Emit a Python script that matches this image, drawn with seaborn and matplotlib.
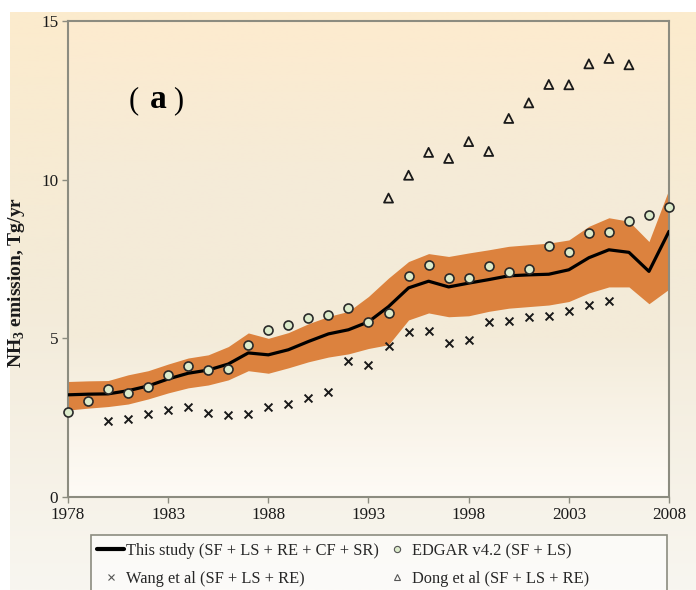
import numpy as np
import pandas as pd
import matplotlib
matplotlib.use("Agg")
import matplotlib.pyplot as plt
from matplotlib.colors import LinearSegmentedColormap
from matplotlib.lines import Line2D
from matplotlib.patches import Rectangle
import seaborn as sns

sns.set_theme(style="white")
plt.rcParams['font.family'] = ['Liberation Serif', 'DejaVu Serif']

# ---------------- data ----------------
years = list(range(1978, 2009))
study = [3.22, 3.24, 3.25, 3.35, 3.5, 3.72, 3.9, 4.0, 4.19, 4.54, 4.48, 4.64, 4.9, 5.14, 5.27, 5.52,
         6.0, 6.59, 6.8, 6.62, 6.74, 6.85, 6.97, 7.0, 7.02, 7.16, 7.54, 7.79, 7.71, 7.11, 8.37]
study_hi = [3.64, 3.66, 3.67, 3.85, 3.98, 4.19, 4.38, 4.48, 4.74, 5.17, 5.0, 5.18, 5.46, 5.69, 5.85, 6.32,
            6.9, 7.42, 7.67, 7.58, 7.69, 7.79, 7.9, 7.95, 8.0, 8.1, 8.53, 8.8, 8.69, 8.05, 9.7]
study_lo = [2.74, 2.8, 2.85, 2.93, 3.09, 3.28, 3.44, 3.53, 3.69, 3.98, 3.9, 4.07, 4.26, 4.41, 4.51, 4.68,
            4.8, 5.58, 5.8, 5.68, 5.71, 5.85, 5.95, 6.0, 6.05, 6.16, 6.43, 6.62, 6.62, 6.09, 6.55]

edgar_years = list(range(1978, 2009))
edgar = [2.69, 3.04, 3.4, 3.27, 3.48, 3.83, 4.14, 4.0, 4.04, 4.8, 5.26, 5.41, 5.64, 5.74, 5.95, 5.5,
         5.81, 6.97, 7.31, 6.89, 6.89, 7.27, 7.09, 7.17, 7.92, 7.72, 8.31, 8.36, 8.71, 8.9, 9.15]

wang_years = list(range(1980, 2006))
wang = [2.4, 2.45, 2.62, 2.74, 2.85, 2.64, 2.58, 2.62, 2.83, 2.92, 3.13, 3.31, 4.3, 4.17,
        4.77, 5.19, 5.24, 4.84, 4.96, 5.51, 5.56, 5.66, 5.7, 5.85, 6.05, 6.18]

dong_years = list(range(1994, 2007))
dong = [9.42, 10.14, 10.86, 10.67, 11.2, 10.89, 11.93, 12.42, 13.0, 12.99, 13.65, 13.82, 13.62]

xticks = [1978, 1983, 1988, 1993, 1998, 2003, 2008]
yticks = [0, 5, 10, 15]

labels = ["This study (SF + LS + RE + CF + SR)", "EDGAR v4.2 (SF + LS)",
          "Wang et al (SF + LS + RE)", "Dong et al (SF + LS + RE)"]

df_study = pd.DataFrame({"year": years, "v": study, "hi": study_hi, "lo": study_lo})
df_edgar = pd.DataFrame({"year": edgar_years, "v": edgar})
df_wang = pd.DataFrame({"year": wang_years, "v": wang})
df_dong = pd.DataFrame({"year": dong_years, "v": dong})

# ---------------- figure ----------------
W, H = 696, 590
fig = plt.figure(figsize=(W / 100, H / 100), dpi=100)
fig.patch.set_facecolor("white")

# figure background gradient
bg = fig.add_axes([10 / W, 0, 1 - 10 / W, 1 - 12 / H], zorder=-10)
bg_cmap = LinearSegmentedColormap.from_list("bg", ["#FCEBCD", "#F3EBD9", "#F8F6F0"])
bg.imshow(np.linspace(0, 1, 256).reshape(-1, 1), aspect="auto", cmap=bg_cmap,
          extent=[0, 1, 0, 1], origin="upper")
bg.set_axis_off()

ax = fig.add_axes([68 / W, 1 - 497 / H, (669 - 68) / W, (497 - 21) / H])
ax.set_facecolor("none")
ax_cmap = LinearSegmentedColormap.from_list("ax", ["#FDEBCF", "#F5EBD8", "#F3EBD9", "#FEFBF6"])
ax.imshow(np.linspace(0, 1, 256).reshape(-1, 1), aspect="auto", cmap=ax_cmap,
          extent=[1978, 2008, 0, 15], origin="upper", zorder=0)

ax.fill_between(df_study["year"], df_study["lo"], df_study["hi"], color="#DC823E",
                linewidth=0, zorder=1)
sns.lineplot(data=df_study, x="year", y="v", ax=ax, color="black", linewidth=2.3, zorder=3)
sns.scatterplot(data=df_edgar, x="year", y="v", ax=ax, marker="o", s=42,
                facecolor="#DCEBCB", edgecolor="#2a2a2a", linewidth=1.2, zorder=4, clip_on=False)
sns.scatterplot(data=df_wang, x="year", y="v", ax=ax, marker="x", s=32,
                color="#1a1a1a", linewidth=1.4, zorder=4)
sns.scatterplot(data=df_dong, x="year", y="v", ax=ax, marker="^", s=42,
                facecolor="none", edgecolor="#1a1a1a", linewidth=1.3, zorder=4)

ax.set_xlim(1978, 2008)
ax.set_ylim(0, 15)
ax.set_xticks(xticks)
ax.set_yticks(yticks)
ax.tick_params(axis="both", which="both", direction="out", length=4, width=1,
               color="#8C8C80", labelsize=12.3, labelcolor="#1a1a1a", pad=3,
               bottom=True, left=True)
for s in ax.spines.values():
    s.set_visible(True)
    s.set_color("#8C8C80")
    s.set_linewidth(1.5)

ax.set_xlabel("")
ax.set_ylabel("NH$_\\mathregular{3}$ emission, Tg/yr", fontsize=14, fontweight="bold", color="#1a1a1a")
ax.yaxis.set_label_coords(-0.068, 0.45)

# panel label "（a）"
ly = 1 - 101 / H
ax.text(134 / W, ly, "(", transform=fig.transFigure, fontsize=22,
        va="center", ha="center", color="black")
ax.text(158 / W, ly + 1 / H, "a", transform=fig.transFigure, fontsize=24,
        fontweight="bold", va="center", ha="center", color="black")
ax.text(178 / W, ly, ")", transform=fig.transFigure, fontsize=22,
        va="center", ha="center", color="black")

# legend frame (wider than the entries, as in the reference)
frame = Rectangle((91 / W, 1 - 593 / H), (667 - 91) / W, (593 - 535) / H,
                  transform=fig.transFigure, facecolor=(1, 1, 1, 0.6),
                  edgecolor="#8C8C80", linewidth=1.2, zorder=1)
fig.patches.append(frame)

h_study = Line2D([], [], color="black", linewidth=3)
h_edgar = Line2D([], [], marker="o", linestyle="none", markersize=4.5, markerfacecolor="#DCEBCB",
                 markeredgecolor="#555555", markeredgewidth=0.8)
h_wang = Line2D([], [], marker="x", linestyle="none", markersize=5, color="#555555", markeredgewidth=0.8)
h_dong = Line2D([], [], marker="^", linestyle="none", markersize=4.5, markerfacecolor="none",
                markeredgecolor="#555555", markeredgewidth=0.8)
# column-major order so rows read: study, EDGAR / Wang, Dong
leg = fig.legend([h_study, h_wang, h_edgar, h_dong],
                 [labels[0], labels[2], labels[1], labels[3]], ncol=2, loc="upper left",
                 bbox_to_anchor=(97 / W, 1 - 543 / H), fontsize=11.8, frameon=False,
                 handlelength=1.65, handletextpad=0.12, columnspacing=0.27,
                 labelspacing=0.72, borderpad=0, borderaxespad=0)

fig.savefig("out.png", dpi=100)
